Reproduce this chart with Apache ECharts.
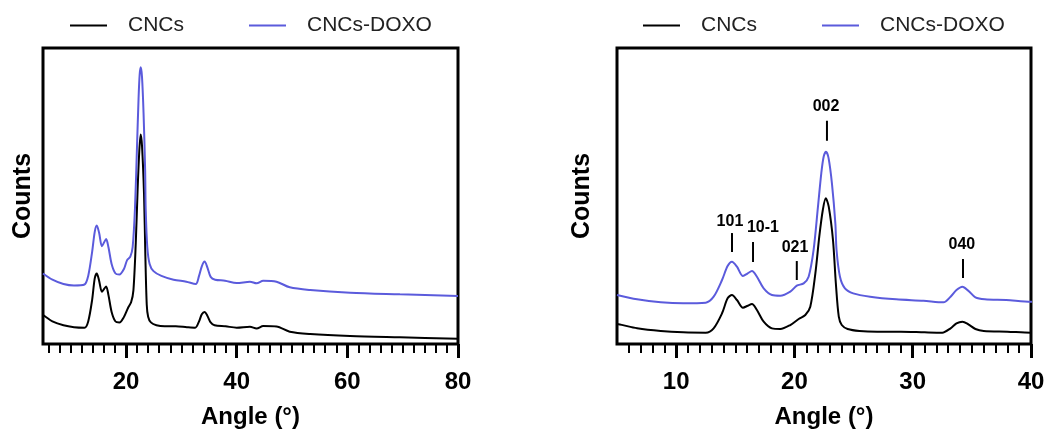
<!DOCTYPE html>
<html>
<head>
<meta charset="utf-8">
<script src="https://cdn.jsdelivr.net/npm/echarts@6/dist/echarts.min.js"></script>
<style>
html,body{margin:0;padding:0;background:#fff;}
#chart{width:1047px;height:430px;}
</style>
</head>
<body>
<div id="chart"></div>
<script>
// ---- Data (intensity in arbitrary units) ----
const cncsAngle  = [5.0, 5.4, 6.7, 8.7, 10.6, 12.5, 13.17, 13.88, 14.35, 14.72, 15.14, 15.65, 16.05, 16.41, 16.83, 17.4, 18.1, 18.8, 19.65, 20.36, 20.92, 21.34, 21.77, 22.1, 22.4, 22.65, 22.9, 23.26, 23.5, 23.75, 24.0, 24.5, 25.5, 27, 29, 31, 32.5, 33.2, 33.7, 34.2, 34.7, 35.3, 36, 38, 40, 42.4, 43.6, 44.8, 47.2, 49.6, 53.3, 60.5, 69.5, 80];
const cncsCounts = [28.8, 27.5, 22.6, 18.7, 16.8, 16.3, 22.6, 44.2, 65.7, 70.5, 63.3, 52.2, 55.1, 57.6, 48.9, 32.1, 22.5, 21.6, 27.3, 36, 41.7, 53.7, 101.7, 154.4, 192.8, 209.6, 197.6, 149.6, 87.8, 39.3, 27.3, 21.6, 18.7, 17.7, 17.7, 16.8, 16.3, 22.6, 29.7, 32.1, 28.3, 21.6, 18.7, 17.7, 16.3, 17.3, 15.5, 18, 17.5, 12.3, 10, 8, 6.7, 5.3];

const doxoAngle  = [5.0, 6.7, 8.7, 10.6, 12.5, 13.17, 13.88, 14.35, 14.72, 15.14, 15.65, 16.05, 16.41, 16.83, 17.4, 18.1, 18.8, 19.65, 20.2, 20.78, 21.2, 21.62, 21.99, 22.27, 22.47, 22.67, 22.89, 23.17, 23.46, 23.56, 23.85, 24.27, 24.97, 26.4, 28.6, 30.9, 32.6, 33.2, 33.7, 34.2, 34.7, 35.3, 36.1, 37.9, 40, 42.4, 43.6, 44.8, 47.2, 49.6, 53.3, 60.5, 69.5, 80];
const doxoCounts = [70.5, 64.3, 60, 58.5, 59.5, 68.1, 92.1, 112.2, 118.4, 111.2, 97.8, 101.7, 105, 96.8, 80.1, 70.5, 69.5, 75.3, 83.9, 87.3, 96.8, 135.3, 197.6, 245.6, 269.5, 276.7, 267.2, 231.2, 173.7, 135.3, 96.8, 80.1, 72.9, 68.1, 64.3, 62.3, 60, 68.1, 77.7, 82.5, 76.7, 67.1, 64.3, 63.3, 60.9, 62.3, 60.7, 63.3, 62.3, 56.7, 54, 51.3, 49.7, 48];

// Peak annotations (right panel)
const annotText      = ['101', '10-1', '021', '002', '040'];
const annotLineAngle = [14.72, 16.5, 20.2, 22.75, 34.25];
const annotTextAngle = [14.55, 17.34, 20.05, 22.67, 34.16];
const annotTextY     = [175.5, 166.9, 138.1, 341.7, 142.4];
const annotLineTop   = [159.7, 146.8, 119.4, 321.3, 122.3];
const annotLineBot   = [132.4, 118.0, 92.1, 292.5, 95.0];

// Axes ticks
const leftMajorTicks  = [20, 40, 60, 80];
const leftMinorTicks  = [6, 8, 10, 12, 14, 16, 18, 22, 24, 26, 28, 30, 32, 34, 36, 38, 42, 44, 46, 48, 50, 52, 54, 56, 58, 62, 64, 66, 68, 70, 72, 74, 76, 78];
const rightMajorTicks = [10, 20, 30, 40];
const rightMinorTicks = [6, 7, 8, 9, 11, 12, 13, 14, 15, 16, 17, 18, 19, 21, 22, 23, 24, 25, 26, 27, 28, 29, 31, 32, 33, 34, 35, 36, 37, 38, 39];

const seriesNames = ['CNCs', 'CNCs-DOXO'];
const colors = ['#000000', '#5b5bdc'];
const axisNameX = 'Angle (°)';
const axisNameY = 'Counts';

// ---- Chart ----
const FONT = '"Liberation Sans", Arial, sans-serif';
const cncsData = cncsAngle.map((a, i) => [a, cncsCounts[i]]);
const doxoData = doxoAngle.map((a, i) => [a, doxoCounts[i]]);
const annotData = annotText.map((t, i) => [annotLineAngle[i], annotTextY[i], annotLineTop[i], annotLineBot[i], annotTextAngle[i]]);

function mainX(grid, min, max, major) {
  return {
    type: 'value', gridIndex: grid, position: 'bottom', min: min, max: max,
    name: axisNameX, nameLocation: 'middle', nameGap: 61,
    nameTextStyle: {fontFamily: FONT, fontWeight: 'bold', fontSize: 24, color: '#000'},
    axisLine: {show: false, onZero: false},
    axisTick: {show: true, inside: false, length: 14, customValues: major, lineStyle: {color: '#000', width: 3}},
    axisLabel: {show: true, customValues: major, margin: 26, fontFamily: FONT, fontWeight: 'bold', fontSize: 24, color: '#000'},
    splitLine: {show: false}
  };
}
function minorX(grid, min, max, minor) {
  return {
    type: 'value', gridIndex: grid, position: 'bottom', offset: 0, min: min, max: max,
    axisLine: {show: false, onZero: false},
    axisTick: {show: true, inside: false, length: 9, customValues: minor, lineStyle: {color: '#000', width: 2}},
    axisLabel: {show: false},
    splitLine: {show: false}
  };
}
function yAx(grid, max, gap) {
  return {
    type: 'value', gridIndex: grid, min: 0, max: max,
    name: axisNameY, nameLocation: 'middle', nameGap: gap,
    nameTextStyle: {fontFamily: FONT, fontWeight: 'bold', fontSize: 25, color: '#000'},
    axisLine: {show: false}, axisTick: {show: false}, axisLabel: {show: false}, splitLine: {show: false}
  };
}
function legend(left) {
  return {
    left: left, top: 15, padding: 0, orient: 'horizontal', itemGap: 65, itemWidth: 37, itemHeight: 2, icon: 'rect',
    data: seriesNames,
    textStyle: {fontFamily: FONT, fontSize: 21, color: '#222', padding: [0, 0, 0, 16]}
  };
}

const chart = echarts.init(document.getElementById('chart'), null, {renderer: 'canvas'});
const lineSeries = (name, data, color, xi, yi) => ({
  name: name, type: 'line', data: data, xAxisIndex: xi, yAxisIndex: yi,
  symbol: 'none', smooth: 0.3, color: color,
  lineStyle: {color: color, width: 2}, animation: false
});

chart.setOption({
  animation: false,
  backgroundColor: '#fff',
  legend: [legend(70), legend(643)],
  grid: [
    {left: 43, top: 48, width: 415, height: 296, show: true, borderColor: '#000', borderWidth: 3, backgroundColor: 'transparent', containLabel: false, outerBoundsMode: 'none'},
    {left: 617, top: 48, width: 414, height: 296, show: true, borderColor: '#000', borderWidth: 3, backgroundColor: 'transparent', containLabel: false, outerBoundsMode: 'none'}
  ],
  xAxis: [
    mainX(0, 5, 80, leftMajorTicks), minorX(0, 5, 80, leftMinorTicks),
    mainX(1, 5, 40, rightMajorTicks), minorX(1, 5, 40, rightMinorTicks)
  ],
  yAxis: [yAx(0, 296, 7), yAx(1, 426, 22)],
  series: [
    lineSeries(seriesNames[0], cncsData, colors[0], 0, 0),
    lineSeries(seriesNames[1], doxoData, colors[1], 0, 0),
    lineSeries(seriesNames[0], cncsData, colors[0], 2, 1),
    lineSeries(seriesNames[1], doxoData, colors[1], 2, 1),
    {
      type: 'custom', xAxisIndex: 2, yAxisIndex: 1, data: annotData, silent: true,
      renderItem: function (params, api) {
        const top = api.coord([api.value(0), api.value(2)]);
        const bot = api.coord([api.value(0), api.value(3)]);
        const txt = api.coord([api.value(4), api.value(1)]);
        return {
          type: 'group',
          children: [
            {type: 'line', shape: {x1: top[0], y1: top[1], x2: bot[0], y2: bot[1]}, style: {stroke: '#000', lineWidth: 2}},
            {type: 'text', x: txt[0], y: txt[1], style: {text: annotText[params.dataIndex], align: 'center', verticalAlign: 'middle', font: 'bold 16px ' + FONT, fill: '#000'}}
          ]
        };
      }
    }
  ]
});
</script>
</body>
</html>
